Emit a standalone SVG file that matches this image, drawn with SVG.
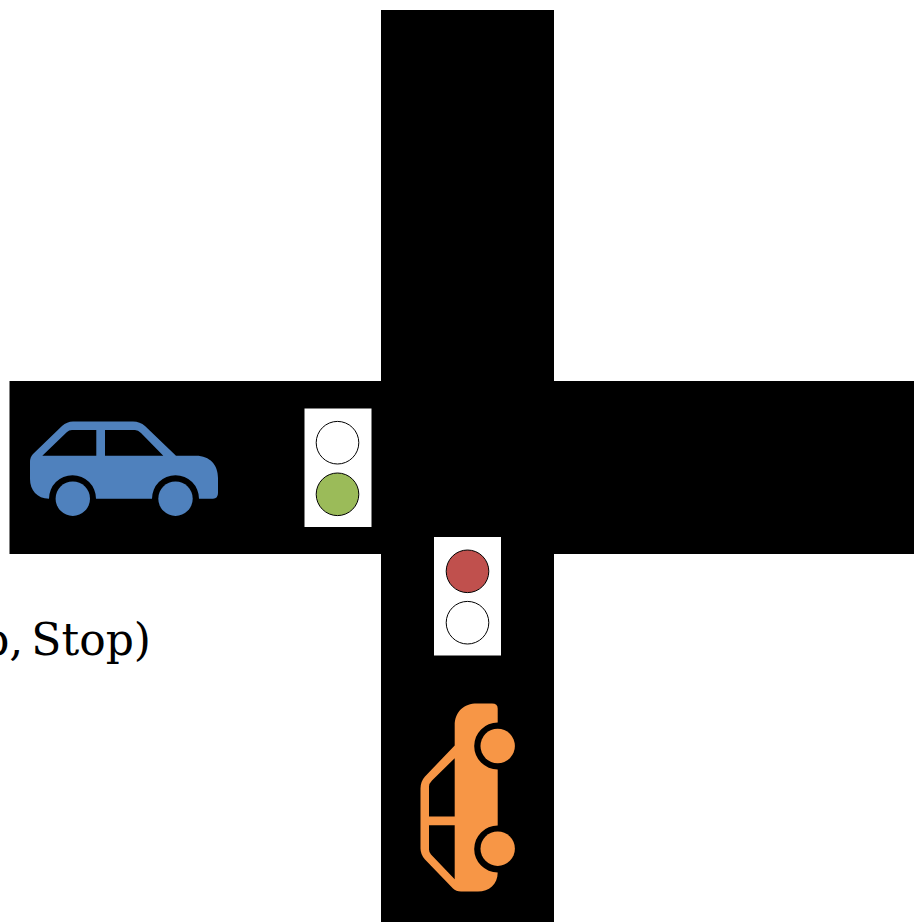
<svg xmlns="http://www.w3.org/2000/svg" width="914" height="922" viewBox="0 0 914 922">
<style>
.road{fill:#000}
.box{fill:#fff}
.lamp{stroke:#000;stroke-width:1}
.off{fill:#fff}
.label{font-family:"DejaVu Serif","Liberation Serif",serif;font-size:44px;fill:#000;word-spacing:-6px}
</style>
<defs>
<g id="car">
<path fill-rule="evenodd" d="M30 462Q30 457 33 454L62 426Q67 421.5 73 421.5L133 421.5Q140 421.5 145 426L176 455.7L196 455.7C210 455.7 218 465 218 478L218 493Q218 498.7 213 498.7L199 498.7A23.5 23.5 0 0 0 152 498.7L96 498.7A23.5 23.5 0 0 0 49 498.7C37 498.7 30 490 30 479ZM42.3 455.7L96.3 455.7L96.3 430L72 430Q69 430 67 432ZM105 455.7L163.3 455.7L141 433Q138 430 135 430L105 430Z"/>
<circle cx="72.8" cy="498.7" r="17.2"/>
<circle cx="175.5" cy="498.7" r="17.2"/>
</g>
</defs>
<rect width="914" height="922" fill="#fff"/>
<g id="roads">
<rect class="road" x="381" y="10" width="173" height="912"/>
<rect class="road" x="9.5" y="381" width="904.5" height="173"/>
</g>
<text class="label" x="151" y="655" text-anchor="end">p, Stop)</text>
<g id="light-left">
<rect class="box" x="304.5" y="408.5" width="67" height="118.5"/>
<circle class="lamp off" cx="337.5" cy="442.7" r="21.3"/>
<circle class="lamp" fill="#9bbb59" cx="337.5" cy="494.3" r="21.3"/>
</g>
<g id="light-bottom">
<rect class="box" x="434" y="537" width="67" height="118.5"/>
<circle class="lamp" fill="#c0504d" cx="467.5" cy="571.3" r="21.3"/>
<circle class="lamp off" cx="467.5" cy="622.7" r="21.3"/>
</g>
<g id="car-blue" fill="#4f81bd"><use href="#car"/></g>
<g id="car-orange" fill="#f79646"><use href="#car" transform="matrix(0 -1 1 0 -1 921.5)"/></g>
</svg>
